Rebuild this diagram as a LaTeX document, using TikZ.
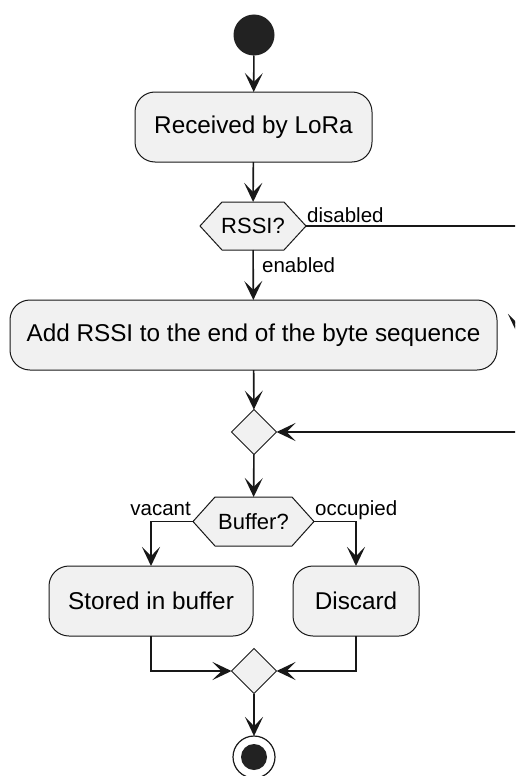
\documentclass[tikz,border=0pt]{standalone}
\usepackage{fontspec}
\setmainfont{Liberation Sans}
\usetikzlibrary{arrows.meta,shapes.geometric,backgrounds}
\definecolor{umlline}{HTML}{181818}
\definecolor{umlfill}{HTML}{F1F1F1}
\definecolor{umldot}{HTML}{222222}

\begin{document}
\begin{tikzpicture}[x=1pt,y=-1pt,
  flow/.style={draw=umlline, line width=1.6pt,
    -{Stealth[length=19pt,width=18pt,inset=9pt]}},
  actionbox/.style={rectangle, rounded corners=20pt, draw=umlline,
    line width=1pt, fill=umlfill, inner sep=0pt, outer sep=0pt,
    minimum height=70pt, font=\fontsize{24.3}{29}\selectfont},
  guardbox/.style={rectangle, inner sep=0pt, outer sep=0pt,
    font=\fontsize{22}{26}\selectfont},
  hexline/.style={draw=umlline, line width=1pt, fill=umlfill},
  mergebox/.style={diamond, aspect=1, draw=umlline, line width=1pt,
    fill=umlfill, inner sep=0pt, outer sep=0pt,
    minimum width=45pt, minimum height=45pt},
  guardlbl/.style={inner sep=0pt, font=\fontsize{20.5}{24}\selectfont},
  startdot/.style={circle, fill=umldot, inner sep=0pt, outer sep=0pt,
    minimum size=41pt},
  stopdot/.style={circle, draw=umlline, line width=1.2pt, fill=white,
    inner sep=0pt, outer sep=0pt, minimum size=42pt,
    path picture={\fill[umldot] (path picture bounding box.center) circle (13pt);}}
]
\clip (0,0) rectangle (515,776);

% nodes of the flow
\node[startdot] (start) at (254,35) {};
\node[actionbox, minimum width=237pt] (recv) at (253.5,127) {Received by LoRa};
\node[guardbox, minimum width=106pt, minimum height=48pt] (rssi) at (253,226) {RSSI?};
\node[actionbox, minimum width=487pt] (add) at (253.5,335) {Add RSSI to the end of the byte sequence};
\node[mergebox] (m1) at (254,432) {};
\node[guardbox, minimum width=121pt, minimum height=49pt] (buf) at (253.5,521.5) {Buffer?};
\node[actionbox, minimum width=204pt] (stored) at (151,601) {Stored in buffer};
\node[actionbox, minimum width=126pt] (discard) at (356,601) {Discard};
\node[mergebox] (m2) at (254,671) {};
\node[stopdot] (stop) at (254,757) {};

% hexagonal decision outlines behind their texts
\begin{scope}[on background layer]
  \foreach \h in {rssi,buf}{
    \draw[hexline] (\h.west) -- ([xshift=22pt]\h.north west)
      -- ([xshift=-22pt]\h.north east) -- (\h.east)
      -- ([xshift=-22pt]\h.south east) -- ([xshift=22pt]\h.south west) -- cycle;
  }
\end{scope}

% points of the flow that lie beyond the right edge
\coordinate (offcol) at (517,226);
\coordinate (offtip) at (517,333);
\coordinate (offret) at (530,432);

% connectors
\draw[flow] (start) -- (recv);
\draw[flow] (recv) -- (rssi);
\draw[flow] (rssi) -- (add);
\draw[flow] (rssi.east) -- (offcol) -- (offtip);
\draw[flow] (add) -- (m1);
\draw[flow] (offret) -- (m1.east);
\draw[flow] (m1) -- (buf);
\draw[flow] (buf.west) -| (stored.north);
\draw[flow] (buf.east) -| (discard.north);
\draw[flow] (stored.south) |- (m2.west);
\draw[flow] (discard.south) |- (m2.east);
\draw[flow] (m2) -- (stop);

% guard labels
\node[guardlbl, anchor=base west] (lbldis) at (307,222) {disabled};
\node[guardlbl, anchor=base west] (lblen) at (262,272) {enabled};
\node[guardlbl, anchor=base east] (lblvac) at (191,515) {vacant};
\node[guardlbl, anchor=base west] (lblocc) at (315,515) {occupied};
\end{tikzpicture}
\end{document}
